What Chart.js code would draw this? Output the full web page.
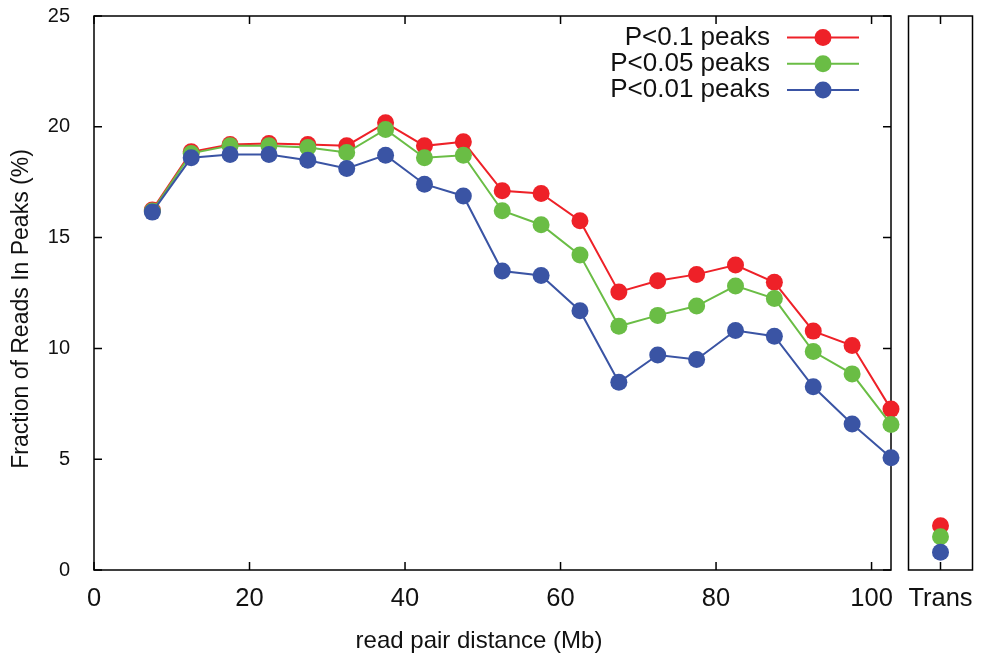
<!DOCTYPE html>
<html lang="en">
<head>
<meta charset="UTF-8">
<title>Fraction of Reads In Peaks</title>
<style>
    body {
        margin: 0;
        background: #fff;
    }
    .wrap {
        position: relative;
        width: 982px;
        height: 655px;
    }
    #mainChart { position: absolute; left: 0; top: 0; }
    #transChart { position: absolute; left: 895px; top: 0; }
</style>
</head>
<body>
<div class="wrap">
    <canvas id="mainChart" width="900" height="655"></canvas>
    <canvas id="transChart" width="87" height="655"></canvas>
</div>

<script src="https://cdn.jsdelivr.net/npm/chart.js@4"></script>
<script>
// read pair distance bins (Mb)
const distances = [7.5, 12.5, 17.5, 22.5, 27.5, 32.5, 37.5, 42.5, 47.5, 52.5,
                   57.5, 62.5, 67.5, 72.5, 77.5, 82.5, 87.5, 92.5, 97.5, 102.5];
const peaksP10  = [16.25, 18.87, 19.2, 19.25, 19.2, 19.15, 20.18, 19.14, 19.32, 17.11,
                   16.99, 15.76, 12.55, 13.05, 13.34, 13.76, 12.98, 10.78, 10.13, 7.26];
const peaksP05  = [16.2, 18.8, 19.15, 19.15, 19.07, 18.84, 19.88, 18.6, 18.72, 16.21,
                   15.58, 14.21, 11.0, 11.49, 11.91, 12.82, 12.25, 9.86, 8.85, 6.57];
const peaksP01  = [16.15, 18.6, 18.75, 18.75, 18.49, 18.12, 18.72, 17.41, 16.88, 13.49,
                   13.29, 11.7, 8.47, 9.7, 9.5, 10.81, 10.55, 8.27, 6.59, 5.07];
const seriesNames = ['P<0.1 peaks', 'P<0.05 peaks', 'P<0.01 peaks'];
const transLabels = ['Trans'];
const transValues = [2.0, 1.5, 0.8];   // same order as seriesNames
const xTicks = [0, 20, 40, 60, 80, 100];
const yTicks = [0, 5, 10, 15, 20, 25];

const colors = ['#ee2128', '#6abd45', '#3a54a4'];
const FONT = '"Liberation Sans", Arial, Helvetica, sans-serif';
const INK = '#111';

// box round the plot area, gnuplot style ticks pointing inwards
const frame = {
    id: 'frame',
    beforeDatasetsDraw(chart, args, opts) {
        const {ctx, chartArea: a, scales} = chart;
        const len = 8;
        ctx.save();
        ctx.strokeStyle = '#000';
        ctx.lineWidth = 1.5;
        ctx.beginPath();
        if (opts.xSides) {
            scales.x.ticks.forEach(t => {
                const px = scales.x.getPixelForValue(t.value);
                ctx.moveTo(px, a.bottom); ctx.lineTo(px, a.bottom - len);
                ctx.moveTo(px, a.top); ctx.lineTo(px, a.top + len);
            });
        }
        if (opts.ySides) {
            scales.y.ticks.forEach(t => {
                const py = scales.y.getPixelForValue(t.value);
                ctx.moveTo(a.left, py); ctx.lineTo(a.left + len, py);
                ctx.moveTo(a.right, py); ctx.lineTo(a.right - len, py);
            });
        }
        ctx.stroke();
        ctx.strokeRect(a.left, a.top, a.right - a.left, a.bottom - a.top);
        ctx.restore();
    }
};

// key in the top right corner: text, then a line sample with its dot
const keyBox = {
    id: 'keyBox',
    afterDatasetsDraw(chart) {
        const {ctx, chartArea: a} = chart;
        ctx.save();
        ctx.font = '26px ' + FONT;
        ctx.textAlign = 'right';
        ctx.textBaseline = 'middle';
        chart.data.datasets.forEach((ds, i) => {
            const y = a.top + 21.5 + 26.3 * i;
            ctx.fillStyle = INK;
            ctx.fillText(ds.label, a.right - 121, y);
            ctx.strokeStyle = ds.borderColor;
            ctx.lineWidth = 2;
            ctx.beginPath();
            ctx.moveTo(a.right - 104, y); ctx.lineTo(a.right - 32, y);
            ctx.stroke();
            ctx.fillStyle = ds.pointBackgroundColor;
            ctx.beginPath();
            ctx.arc(a.right - 68, y, 8.5, 0, Math.PI * 2);
            ctx.fill();
        });
        ctx.restore();
    }
};

// axis captions
const captions = {
    id: 'captions',
    afterDraw(chart) {
        const ctx = chart.ctx;
        ctx.save();
        ctx.fillStyle = INK;
        ctx.textAlign = 'center';
        ctx.font = '24px ' + FONT;
        ctx.textBaseline = 'alphabetic';
        ctx.fillText('read pair distance (Mb)', 479, 648);
        ctx.font = '23px ' + FONT;
        ctx.textBaseline = 'middle';
        ctx.translate(22, 309);
        ctx.rotate(-Math.PI / 2);
        ctx.fillText('Fraction of Reads In Peaks (%)', 0, 0);
        ctx.restore();
    }
};

const series = [peaksP10, peaksP05, peaksP01];

new Chart(document.getElementById('mainChart'), {
    type: 'line',
    data: {
        datasets: series.map((vals, i) => ({
            label: seriesNames[i],
            data: distances.map((d, j) => ({x: d, y: vals[j]})),
            borderColor: colors[i],
            backgroundColor: colors[i],
            pointBackgroundColor: colors[i],
            pointBorderWidth: 0,
            pointRadius: 8.5,
            borderWidth: 2,
            tension: 0,
            clip: false,
            order: 3 - i
        }))
    },
    options: {
        responsive: false,
        animation: false,
        events: [],
        layout: { padding: { left: 0, right: 9, top: 16, bottom: 0 } },
        plugins: {
            legend: { display: false },
            tooltip: { enabled: false },
            frame: { xSides: true, ySides: true }
        },
        scales: {
            x: {
                type: 'linear',
                min: 0,
                max: 102.5,
                afterBuildTicks: s => { s.ticks = xTicks.map(v => ({value: v})); },
                grid: { display: false, drawTicks: true, tickLength: 14 },
                border: { display: false },
                ticks: { padding: 0, color: INK, font: { family: FONT, size: 25.5 } },
                afterFit: s => { s.height = 85; }
            },
            y: {
                min: 0,
                max: 25,
                afterBuildTicks: s => { s.ticks = yTicks.map(v => ({value: v})); },
                grid: { display: false, drawTicks: true, tickLength: 24 },
                border: { display: false },
                ticks: { padding: 0, color: INK, font: { family: FONT, size: 20 } },
                afterFit: s => { s.width = 94; }
            }
        }
    },
    plugins: [frame, keyBox, captions]
});

new Chart(document.getElementById('transChart'), {
    type: 'line',
    data: {
        labels: transLabels,
        datasets: transValues.map((v, i) => ({
            label: seriesNames[i],
            data: [v],
            borderColor: colors[i],
            pointBackgroundColor: colors[i],
            pointBorderWidth: 0,
            pointRadius: 8.5,
            showLine: false,
            clip: false,
            order: 3 - i
        }))
    },
    options: {
        responsive: false,
        animation: false,
        events: [],
        layout: { padding: { left: 13.5, right: 9.5, top: 16, bottom: 0 } },
        plugins: {
            legend: { display: false },
            tooltip: { enabled: false },
            frame: { xSides: true, ySides: false }
        },
        scales: {
            x: {
                type: 'category',
                offset: true,
                grid: { display: false, drawTicks: true, tickLength: 14 },
                border: { display: false },
                ticks: { padding: 0, color: INK, font: { family: FONT, size: 25.5 } },
                afterFit: s => { s.height = 85; }
            },
            y: { display: false, min: 0, max: 25 }
        }
    },
    plugins: [frame]
});
</script>
</body>
</html>
